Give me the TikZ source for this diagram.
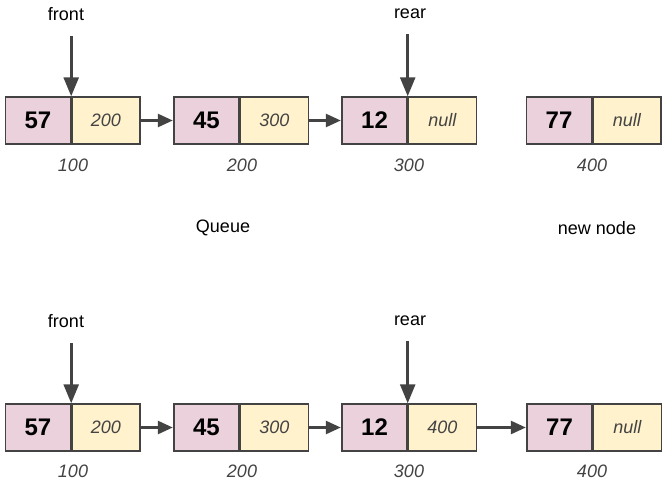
\documentclass[tikz,border=0pt]{standalone}
\usepackage{fontspec}
\setmainfont{Liberation Sans}
\usepackage{xcolor}
\usetikzlibrary{arrows.meta, positioning}

\definecolor{cellpink}{HTML}{EAD1DC}
\definecolor{cellyellow}{HTML}{FFF2CC}
\definecolor{edge}{HTML}{434343}

\begin{document}
\begin{tikzpicture}[
    x=1pt, y=-1pt,
    val/.style={rectangle, draw=edge, fill=cellpink, line width=1.4pt, minimum width=65pt, minimum height=47pt, inner sep=0pt, font=\fontsize{24}{26}\selectfont\bfseries},
    nxt/.style={rectangle, draw=edge, fill=cellyellow, line width=1.4pt, minimum width=68pt, minimum height=47pt, inner sep=0pt, text=edge, font=\fontsize{18}{20}\selectfont\itshape},
    addr/.style={text=edge, font=\fontsize{18}{20}\selectfont\itshape},
    lbl/.style={font=\fontsize{18}{20}\selectfont},
    link/.style={-{Triangle[length=15pt, width=13pt]}, draw=edge, fill=edge, line width=2.6pt, shorten >=0.5pt},
    ptr/.style={-{Triangle[length=19pt, width=15pt]}, draw=edge, fill=edge, line width=2.6pt}
]
    \useasboundingbox (0,0) rectangle (668,489);

    % Queue
    \node[val] (top1) at (38,120.5) {57};
    \node[nxt, right=0pt of top1] (top1n) {200};
    \node[val] (top2) at (206.5,120.5) {45};
    \node[nxt, right=0pt of top2] (top2n) {300};
    \node[val] (top3) at (374.5,120.5) {12};
    \node[nxt, right=0pt of top3] (top3n) {null};

    \node[addr] at (73,165) {100};
    \node[addr] at (242,165) {200};
    \node[addr] at (409,165) {300};

    \draw[link] (top1n.east) -- (top2.west);
    \draw[link] (top2n.east) -- (top3.west);

    \node[lbl] (front1) at (66,14) {front};
    \node[lbl] (rear1) at (410,14) {rear};
    \draw[ptr] ([yshift=-12pt]front1.south -| top1.east) -- (top1.north east);
    \draw[ptr] ([yshift=-12pt]rear1.south -| top3.east) -- (top3.north east);

    \node[lbl] (queue) at (223,228) {Queue};

    % New node
    \node[val] (new) at (559,120.5) {77};
    \node[nxt, right=0pt of new] (newn) {null};
    \node[addr] at (592,165) {400};
    \node[lbl] (newlbl) at (597,228) {new node};

    % After enqueue
    \node[val] (bot1) at (38,427.5) {57};
    \node[nxt, right=0pt of bot1] (bot1n) {200};
    \node[val] (bot2) at (206.5,427.5) {45};
    \node[nxt, right=0pt of bot2] (bot2n) {300};
    \node[val] (bot3) at (374.5,427.5) {12};
    \node[nxt, right=0pt of bot3] (bot3n) {400};
    \node[val] (bot4) at (559.5,427.5) {77};
    \node[nxt, right=0pt of bot4] (bot4n) {null};

    \node[addr] at (73,471) {100};
    \node[addr] at (242,471) {200};
    \node[addr] at (409,471) {300};
    \node[addr] at (592,471) {400};

    \draw[link] (bot1n.east) -- (bot2.west);
    \draw[link] (bot2n.east) -- (bot3.west);
    \draw[link] (bot3n.east) -- (bot4.west);

    \node[lbl] (front2) at (66,321) {front};
    \node[lbl] (rear2) at (410,321) {rear};
    \draw[ptr] ([yshift=-12pt]front2.south -| bot1.east) -- (bot1.north east);
    \draw[ptr] ([yshift=-12pt]rear2.south -| bot3.east) -- (bot3.north east);
\end{tikzpicture}
\end{document}
